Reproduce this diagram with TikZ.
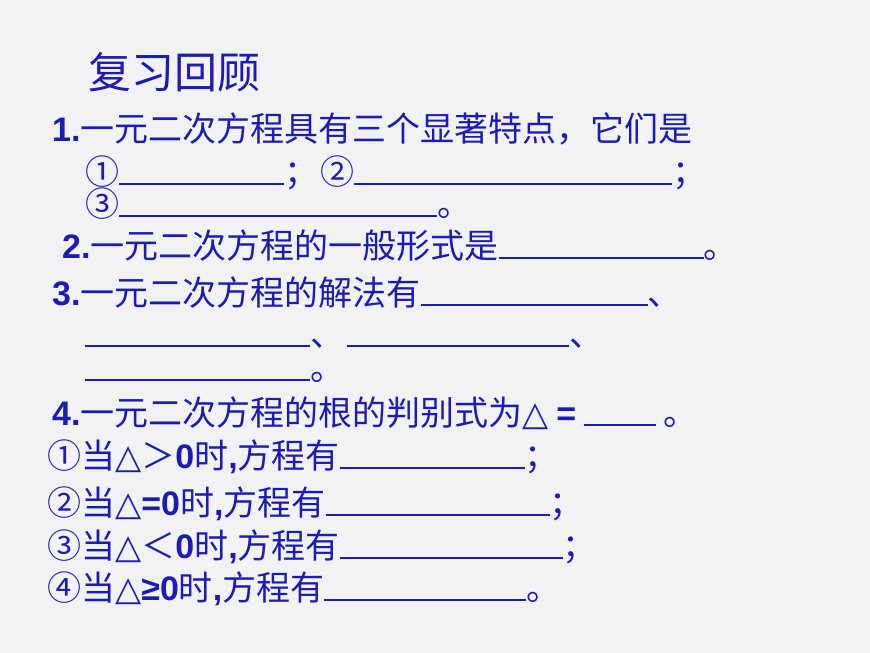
\documentclass[tikz,border=0pt]{standalone}
\usepackage{fontspec}
\setmainfont{Noto Sans CJK SC}
\newfontfamily\latb{Liberation Sans}
\newfontfamily\symb{DejaVu Sans}
\definecolor{slideblue}{HTML}{1C1CB4}
\definecolor{slidebg}{HTML}{F2F2F4}
\newcommand{\blank}[1]{\rule[-1pt]{#1pt}{2.5pt}}
\newcommand{\n}[1]{{\latb\bfseries #1}}
\newcommand{\s}[1]{{\symb\bfseries #1}}
\begin{document}
\begin{tikzpicture}[x=1pt,y=-1pt,
  line/.style={anchor=base west, inner sep=0pt, text=slideblue, font=\fontsize{34}{35}\selectfont},
  title/.style={anchor=base west, inner sep=0pt, text=slideblue, font=\fontsize{43}{45}\selectfont}]
\fill[slidebg] (0,0) rectangle (870,653);
\useasboundingbox (0,0) rectangle (870,653);
\node[title] (head) at (88,88) {复习回顾};
\node[line] (q1) at (52,141) {\n{1.}一元二次方程具有三个显著特点，它们是};
\node[line] (q1a) at (85,184) {①\blank{165}；\hspace{2pt}②\blank{318}；};
\node[line] (q1b) at (85,216) {③\blank{318}。};
\node[line] (q2) at (62,258) {\n{2.}一元二次方程的一般形式是\blank{205}。};
\node[line] (q3) at (52,305) {\n{3.}一元二次方程的解法有\blank{227}、};
\node[line] (q3a) at (85,346) {\blank{225}、\hspace{3pt}\blank{222}、};
\node[line] (q3b) at (85,380) {\blank{225}。};
\node[line] (q4) at (52,425) {\n{4.}一元二次方程的根的判别式为\s{△} \n{=} \blank{72} 。};
\node[line] (c1) at (47,468) {①当\s{△}＞\n{0}时\n{,}方程有\blank{185}；};
\node[line] (c2) at (47,515) {②当\s{△}\n{=0}时\n{,}方程有\blank{224}；};
\node[line] (c3) at (47,558) {③当\s{△}＜\n{0}时\n{,}方程有\blank{223}；};
\node[line] (c4) at (47,600) {④当\s{△}\n{≥0}时\n{,}方程有\blank{202}。};
\end{tikzpicture}
\end{document}
